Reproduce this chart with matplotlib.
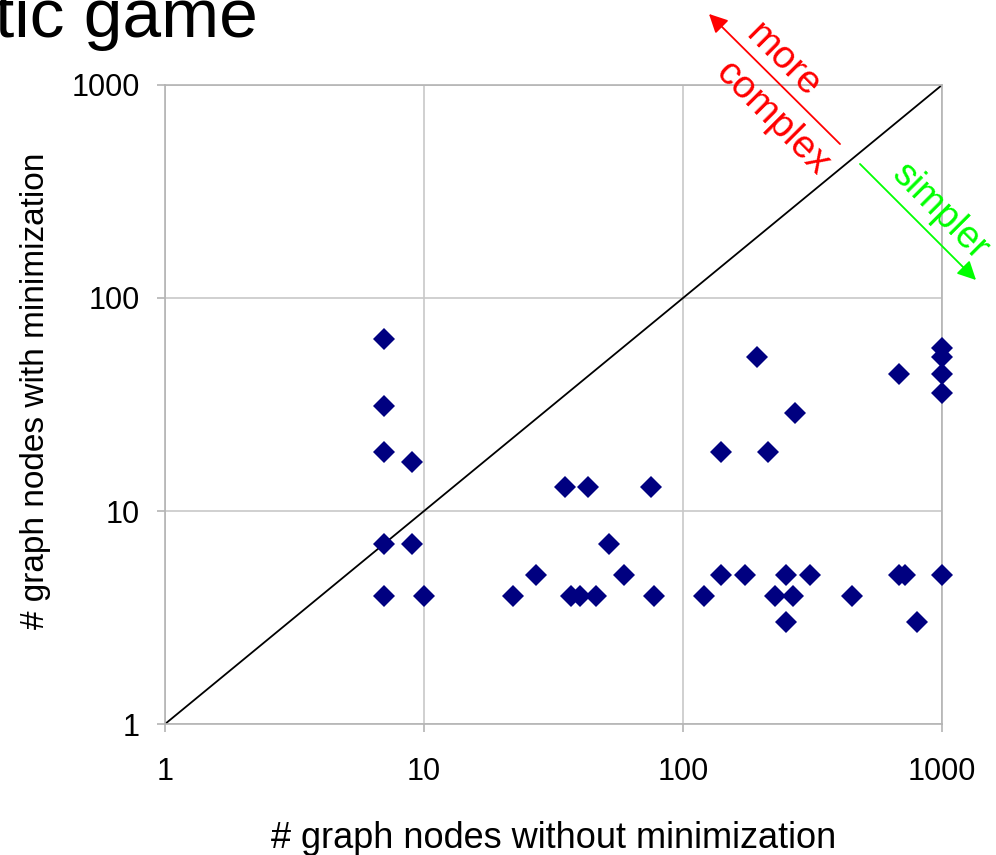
import matplotlib.pyplot as plt
from matplotlib.ticker import FixedLocator, FixedFormatter

plt.rcParams['font.family'] = ['Liberation Sans', 'DejaVu Sans']

# nodes without / with minimization
without_min = [7, 7, 7, 7, 7, 9, 9, 10, 22, 27, 35, 43, 75, 37, 40, 46, 52, 59, 77,
               120, 140, 140, 173, 193, 213, 227, 250, 250, 265, 270, 310, 448,
               682, 682, 720, 799, 1000, 1000, 1000, 1000, 1000]
with_min = [64, 31, 19, 7, 4, 17, 7, 4, 4, 5, 13, 13, 13, 4, 4, 4, 7, 5, 4,
            4, 5, 19, 5, 53, 19, 4, 5, 3, 4, 29, 5, 4,
            44, 5, 5, 3, 58, 53, 44, 36, 5]
ticks = [1, 10, 100, 1000]
tick_labels = ['1', '10', '100', '1000']

fig = plt.figure(figsize=(9.96, 8.55), dpi=100)
ax = fig.add_axes([0.1657, 0.1532, 0.7801, 0.7474])
ax.set_xscale('log')
ax.set_yscale('log')
ax.set_xlim(1, 1000)
ax.set_ylim(1, 1000)

ax.plot([1, 1000], [1, 1000], color='black', lw=1.3, zorder=2)
ax.plot(without_min, with_min, linestyle='none', marker='D', markersize=11,
        color='#000080', markeredgewidth=0, zorder=3, clip_on=False)

for a in (ax.xaxis, ax.yaxis):
    a.set_major_locator(FixedLocator(ticks))
    a.set_major_formatter(FixedFormatter(tick_labels))
    a.set_minor_locator(FixedLocator([]))
ax.grid(True, color='#c8c8c8', lw=1.2)
ax.set_axisbelow(True)
for s in ax.spines.values():
    s.set_color('#b4b4b4')
    s.set_linewidth(1.2)
ax.tick_params(length=6, width=1.2, color='#b4b4b4', labelsize=22)
ax.tick_params(axis='x', pad=18)
ax.tick_params(axis='y', pad=12)

ax.set_xlabel('# graph nodes without minimization', fontsize=26, labelpad=24)
ax.set_ylabel('# graph nodes with minimization', fontsize=24)
ax.yaxis.set_label_coords(-0.147, 0.521)

fig.text(-5 / 996, 1 - 37 / 855, 'tic game', fontsize=50, ha='left', va='baseline')

# direction arrows
ax.annotate('', xy=(707, 855 - 12), xytext=(842, 855 - 146), xycoords='figure pixels',
            arrowprops=dict(arrowstyle='-|>', color='#ff0000', lw=1.3,
                            mutation_scale=28), annotation_clip=False)
ax.annotate('', xy=(978, 855 - 282), xytext=(858, 855 - 162), xycoords='figure pixels',
            arrowprops=dict(arrowstyle='-|>', color='#00ff00', lw=1.3,
                            mutation_scale=28), annotation_clip=False)
fig.text(783 / 996, 1 - 60 / 855, 'more', color='#ff0000', fontsize=28,
         rotation=-45, ha='center', va='center', rotation_mode='anchor')
fig.text(772 / 996, 1 - 118 / 855, 'complex', color='#ff0000', fontsize=28,
         rotation=-45, ha='center', va='center', rotation_mode='anchor')
fig.text(940 / 996, 1 - 212 / 855, 'simpler', color='#00ff00', fontsize=27,
         rotation=-45, ha='center', va='center', rotation_mode='anchor')

fig.savefig('out.png', dpi=100)
